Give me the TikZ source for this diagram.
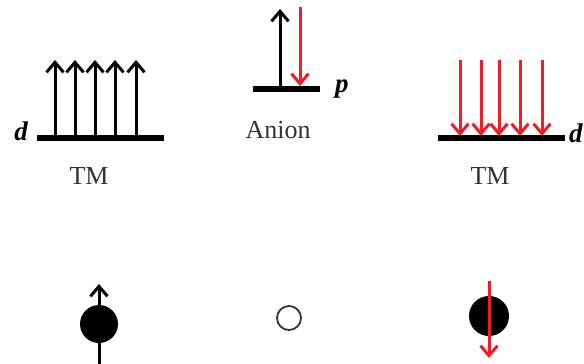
\documentclass[tikz,border=0pt]{standalone}
\usepackage{fontspec}
\setmainfont{Liberation Serif}
\usetikzlibrary{arrows.meta}
\definecolor{spinred}{HTML}{EE1C25}
\tikzset{
  level/.style  = {line width=6.5pt},
  spinup/.style = {-{Straight Barb[length=10pt,width=17pt,line width=3pt]}, line width=3pt, draw=black},
  spindn/.style = {-{Straight Barb[length=10pt,width=17pt,line width=3pt]}, line width=3pt, draw=spinred},
  lbl/.style    = {font=\fontsize{26}{30}\selectfont, text=black!80, inner sep=0pt},
  orb/.style    = {font=\fontsize{27}{30}\selectfont\bfseries\itshape, inner sep=0pt},
}
\begin{document}
\begin{tikzpicture}[x=1pt,y=-1pt]
\useasboundingbox (0,0) rectangle (584,364);

% --- left TM, d level with five up spins
\coordinate (la) at (37,138);
\coordinate (lb) at (164,138);
\draw[level] (la) -- (lb);
\node[orb, anchor=east] (dl) at (28,131) {d};
\node[lbl] (tml) at (89,176) {TM};
\foreach \x [count=\i] in {55,75,95,115,136} {
  \coordinate (lu\i) at (\x,138);
  \coordinate (lt\i) at (\x,60);
  \draw[spinup] (lu\i) -- (lt\i);
}

% --- anion, p level with one pair
\coordinate (ma) at (253,89);
\coordinate (mb) at (320,89);
\draw[level] (ma) -- (mb);
\node[orb, anchor=west] (pl) at (335,89) {p};
\node[lbl] (an) at (278,130) {Anion};
\coordinate (mu0) at (280,89);
\coordinate (mu1) at (280,9);
\draw[spinup] (mu0) -- (mu1);
\coordinate (md0) at (300,7);
\coordinate (md1) at (300,86);
\draw[spindn] (md0) -- (md1);

% --- right TM, d level with five down spins
\coordinate (ra) at (438,138);
\coordinate (rb) at (565,138);
\draw[level] (ra) -- (rb);
\node[orb, anchor=west] (dr) at (569,133) {d};
\node[lbl] (tmr) at (490,176) {TM};
\foreach \x [count=\i] in {460,481,499,520,542} {
  \coordinate (rt\i) at (\x,60);
  \coordinate (rd\i) at (\x,136);
  \draw[spindn] (rt\i) -- (rd\i);
}

% --- bottom row
\node[circle, fill=black, minimum size=38pt, inner sep=0pt] (cl) at (99,324) {};
\coordinate (clb) at (99,366);
\coordinate (clt) at (99,284);
\draw[spinup] (clb) -- (clt);

\node[circle, draw=black!80, line width=1.8pt, minimum size=24pt, inner sep=0pt] (cm) at (289,318) {};

\node[circle, fill=black, minimum size=40pt, inner sep=0pt] (cr) at (489,316) {};
\coordinate (crt) at (489,281);
\coordinate (crb) at (489,358);
\draw[spindn] (crt) -- (crb);
\end{tikzpicture}
\end{document}
